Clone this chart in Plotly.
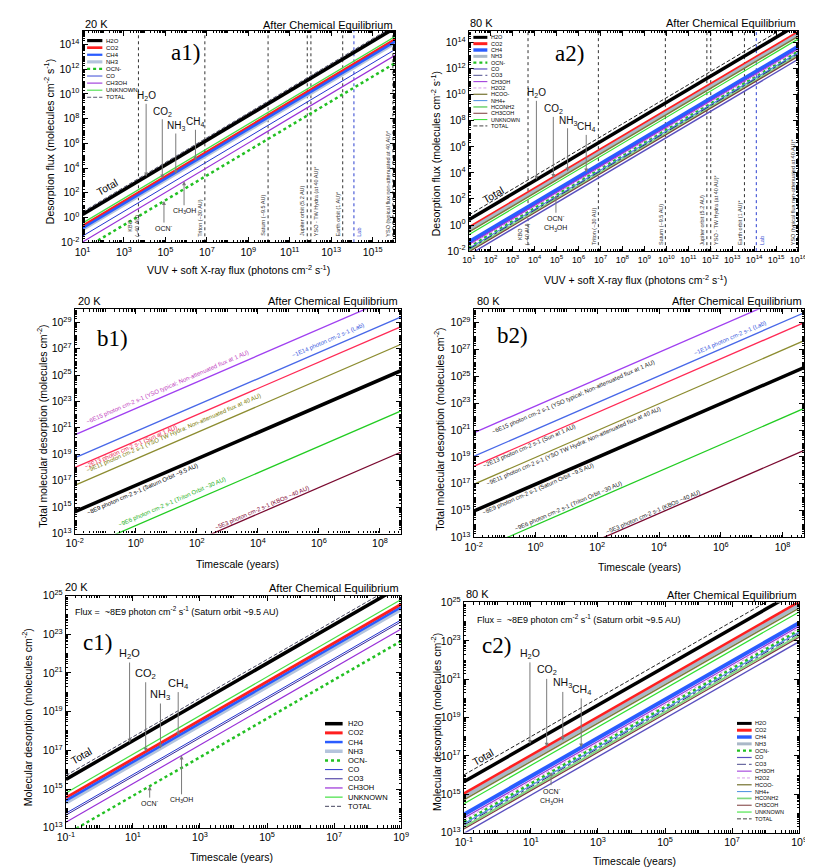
import math
import plotly.graph_objects as go

W, H = 813, 868
FONT = "Liberation Sans"
SERIF = "Liberation Serif"
SEC_PER_YEAR = 3.156e7

# ------------------------------------------------------------------ DATA
# log10 photodesorption yield (molecules per photon)
SPECIES_20K = ["H2O", "CO2", "CH4", "NH3", "OCN-", "CO", "CO3", "CH3OH", "UNKNOWN", "TOTAL"]
LOG_YIELD_20K = [-0.75, -1.70, -1.85, -1.97, -3.60, -2.50, -2.60, -2.97, -1.45, -0.55]
SPECIES_A1 = ["H2O", "CO2", "CH4", "NH3", "OCN-", "CO", "CH3OH", "UNKNOWN", "TOTAL"]

SPECIES_80K = ["H2O", "CO2", "CH4", "NH3", "OCN-", "CO", "CO3", "CH3OH", "H2O2", "HCOO-",
               "NH4+", "HCONH2", "CH3COH", "UNKNOWN", "TOTAL"]
LOG_YIELD_80K = [-0.60, -1.24, -2.31, -1.39, -2.69, -3.29, -2.86, -2.49, -2.59, -1.54,
                 -2.79, -2.96, -3.06, -1.74, -0.24]

FLUX_ENDS = [1e1, 1e17]          # photons cm-2 s-1 (a panels)
TIME_B = [1e-2, 1e9]             # years (b panels)
TIME_C = [1e-1, 1e9]             # years (c panels)
FLUX_C = 5.6e9                   # effective Saturn-orbit flux used in c panels

# b panels: fluxes of the different environments
B_FLUX = [3.4e15, 6.0e13, 1.1e13, 5.0e11, 5.0e9, 4.5e6, 3.4e3]
B_LABELS = ["~6E15 photon cm-2 s-1 (YSO typical; Non-attenuated flux at 1 AU)",
            "~1E14 photon cm-2 s-1 (Lab)",
            "~2E13 photon cm-2 s-1 (Sun at 1 AU)",
            "~9E11 photon cm-2 s-1 (YSO TW Hydra: Non-attenuated flux at 40 AU)",
            "~8E9 photon cm-2 s-1 (Saturn Orbit ~9.5 AU)",
            "~9E6 photon cm-2 s-1 (Triton Orbit ~30 AU)",
            "~5E3 photon cm-2 s-1 (KBOs ~40 AU)"]
B1_LABEL_X = [1.04, 6.31, -0.17, 1.24, 0.22, 1.18, 4.12]
B1_LABEL_DY = [0.6, 0.6, -0.3, 0.72, -0.47, 0.6, 0.33]
B2_LABEL_X = [1.22, 6.30, -0.21, 1.24, 0.07, 1.06, 3.81]
B2_LABEL_DY = [-0.56, 0.5, -0.26, -0.42, -0.45, 0.39, 0.3]

# vertical reference fluxes in a panels
SITE_LABELS = ["KBO<br>(~40 AU)", "Triton (~30 AU)", "Saturn (~9.5 AU)", "Jupiter orbit (5.2 AU)",
               "YSO - TW Hydra (at 40 AU)*", "Earth orbit (1 AU)*", "Lab",
               "YSO (typical flux non-attenuated at 40 AU)*"]
SITE_FLUX = [5e3, 8e6, 9e9, 7e11, 1.05e12, 3.6e13, 1.25e14, 9.5e15]
SITE_SIDE = [-1, -1, -1, -1, 1, -1, 1, -1]

# species annotations: (text, species, log x, log y of label)
NOTES_A1 = [("H<sub>2</sub>O", "H2O", 4.07, 9.8), ("CO<sub>2</sub>", "CO2", 4.85, 8.55),
            ("NH<sub>3</sub>", "NH3", 5.5, 7.4), ("CH<sub>4</sub>", "CH4", 6.45, 7.7),
            ("OCN<sup>-</sup>", "OCN-", 4.93, -0.85), ("CH<sub>3</sub>OH", "CH3OH", 5.9, 0.55)]
NOTES_A2 = [("H<sub>2</sub>O", "H2O", 4.08, 10.1), ("CO<sub>2</sub>", "CO2", 4.85, 8.87),
            ("NH<sub>3</sub>", "NH3", 5.5, 8.0), ("CH<sub>4</sub>", "CH4", 6.35, 7.49),
            ("OCN<sup>-</sup><br>CH<sub>3</sub>OH", "OCN-", 4.97, 0.1)]
NOTES_C1 = [("H<sub>2</sub>O", "H2O", 0.9, 21.98), ("CO<sub>2</sub>", "CO2", 1.38, 20.96),
            ("NH<sub>3</sub>", "NH3", 1.82, 19.86), ("CH<sub>4</sub>", "CH4", 2.35, 20.45),
            ("OCN<sup>-</sup>", "OCN-", 1.5, 14.27), ("CH<sub>3</sub>OH", "CH3OH", 2.45, 14.44)]
NOTES_C2 = [("H<sub>2</sub>O", "H2O", 0.97, 22.32), ("CO<sub>2</sub>", "CO2", 1.47, 21.46),
            ("NH<sub>3</sub>", "NH3", 1.95, 20.78), ("CH<sub>4</sub>", "CH4", 2.5, 20.44),
            ("OCN<sup>-</sup><br>CH<sub>3</sub>OH", "OCN-", 1.6, 14.9)]

# ------------------------------------------------------------------ STYLES
STYLE_20K = {
    "H2O": ("#000000", 3.5, "solid"), "CO2": ("#ff1f1f", 3.0, "solid"),
    "CH4": ("#2a5cff", 2.5, "solid"), "NH3": ("#b4c4dc", 3.5, "solid"),
    "OCN-": ("#22c022", 2.5, "dot"), "CO": ("#2434d0", 1.0, "solid"),
    "CO3": ("#3a2a9a", 1.0, "solid"), "CH3OH": ("#9a30d8", 1.2, "solid"),
    "UNKNOWN": ("#44e044", 1.2, "solid"), "TOTAL": ("#44445e", 1.0, "4px,2px"),
}
STYLE_80K = {
    "H2O": ("#000000", 3.5, "solid"), "CO2": ("#ff1f1f", 3.5, "solid"),
    "CH4": ("#2a5cff", 4.0, "solid"), "NH3": ("#aab8c8", 3.5, "solid"),
    "OCN-": ("#22c022", 2.5, "dot"), "CO": ("#5a50c0", 1.4, "solid"),
    "CO3": ("#2a2a7a", 1.0, "dashdot"), "CH3OH": ("#9a30d8", 1.2, "solid"),
    "H2O2": ("#d08ae8", 1.0, "3px,2px"), "HCOO-": ("#7c7a3a", 1.5, "solid"),
    "NH4+": ("#4a90e0", 1.2, "solid"), "HCONH2": ("#80d880", 2.0, "solid"),
    "CH3COH": ("#7c3c3c", 1.2, "solid"), "UNKNOWN": ("#30e030", 1.2, "solid"),
    "TOTAL": ("#222222", 1.0, "4px,2px"),
}
B_COLORS = ["#a040f0", "#4868e8", "#ff2a55", "#8c8c30", "#000000", "#22cc22", "#7a0a30"]
B_WIDTHS = [1.3, 1.3, 1.3, 1.3, 3.5, 1.3, 1.3]
B1_TEXT_COLORS = ["#c040c0", "#3355dd", "#e8204a", "#7a7a00", "#000000", "#20b020", "#800030"]
B2_TEXT_COLORS = ["#222222", "#3355dd", "#222222", "#222222", "#222222", "#222222", "#222222"]


def px(x):
    return x / W


def py(y):
    return 1 - y / H


PANELS = {
    "a1": dict(sfx="", box=(67, 15, 387, 230), xr=(1, 16.1), yr=(-2, 15.1),
               xt=list(range(1, 16, 2)), yt=list(range(-2, 15, 2)), xf=10.5),
    "a2": dict(sfx="2", box=(462, 15, 799, 239), xr=(1, 16.01), yr=(-2, 14.9),
               xt=list(range(1, 17)), yt=list(range(-2, 15, 2)), xf=8.8),
    "b1": dict(sfx="3", box=(59, 298, 393, 526), xr=(-2, 8.7), yr=(13, 30),
               xt=list(range(-2, 9, 2)), yt=list(range(13, 30, 2)), xf=10.5),
    "b2": dict(sfx="4", box=(467, 298, 805, 530), xr=(-2, 8.7), yr=(13, 30),
               xt=list(range(-2, 9, 2)), yt=list(range(13, 30, 2)), xf=10.5),
    "c1": dict(sfx="5", box=(50, 589, 393, 825), xr=(-1, 9.005), yr=(13, 25.005),
               xt=list(range(-1, 10, 2)), yt=list(range(13, 26, 2)), xf=10.5),
    "c2": dict(sfx="6", box=(457, 596, 800, 830), xr=(-1, 9.005), yr=(13, 25.005),
               xt=list(range(-1, 10, 2)), yt=list(range(13, 26, 2)), xf=10.5),
}


def log_ticks(lo, hi, majors):
    vals = [10.0 ** e for e in majors]
    text = ["10<sup>%d</sup>" % e for e in majors]
    minor = []
    for n in range(int(math.floor(lo)), int(math.ceil(hi)) + 1):
        for k in range(1, 10):
            lv = math.log10(k) + n
            if lo <= lv <= hi and not (k == 1 and n in majors):
                minor.append(k * 10.0 ** n)
    return vals, text, minor


def axis_dict(domain, rng, majors, anchor, fsize):
    vals, text, minor = log_ticks(rng[0], rng[1], majors)
    return dict(type="log", domain=domain, range=list(rng), anchor=anchor,
                tickmode="array", tickvals=vals, ticktext=text,
                ticks="inside", ticklen=5, tickwidth=1, tickcolor="black",
                minor=dict(tickmode="array", tickvals=minor, ticks="inside", ticklen=2.5,
                           tickwidth=0.8, tickcolor="black", showgrid=False),
                showline=True, linecolor="black", linewidth=1.2, mirror="allticks",
                showgrid=False, zeroline=False,
                tickfont=dict(family=FONT, size=fsize, color="black"))


fig = go.Figure()
layout = dict(width=W, height=H, margin=dict(l=0, r=0, t=0, b=0),
              paper_bgcolor="white", plot_bgcolor="white", showlegend=False,
              font=dict(family=FONT, color="black"))
annos, shapes = [], []

for key, p in PANELS.items():
    l, t, r, b = p["box"]
    s = p["sfx"]
    layout["xaxis" + s] = axis_dict([px(l), px(r)], p["xr"], p["xt"], "y" + s, p["xf"])
    layout["yaxis" + s] = axis_dict([py(b), py(t)], p["yr"], p["yt"], "x" + s, 10.5)


def ref(key):
    s = PANELS[key]["sfx"]
    return "x" + s, "y" + s


def add_line(key, xs, ys, color, width, dash):
    xr_, yr_ = ref(key)
    fig.add_trace(go.Scatter(x=xs, y=ys, mode="lines", xaxis=xr_, yaxis=yr_,
                             line=dict(color=color, width=width, dash=dash),
                             hoverinfo="skip"))


def species_lines(key, names, allnames, logy, style, mode):
    order = sorted(names, key=lambda n: -style[n][1])
    for n in order:
        ly = logy[allnames.index(n)]
        c, w, d = style[n]
        if mode == "a":
            xs = FLUX_ENDS
            ys = [10 ** ly * f for f in xs]
        else:
            xs = TIME_C
            ys = [10 ** ly * FLUX_C * tt * SEC_PER_YEAR for tt in xs]
        add_line(key, xs, ys, c, w, d)


def line_value(mode, ly, x):
    if mode == "a":
        return ly + x
    return ly + math.log10(FLUX_C * SEC_PER_YEAR) + x


def species_notes(key, notes, allnames, logy, mode, big):
    xr_, yr_ = ref(key)
    for text, sp, x, ylab in notes:
        tip = line_value(mode, logy[allnames.index(sp)], x)
        small = sp in ("OCN-", "CH3OH")
        annos.append(dict(xref=xr_, yref=yr_, axref=xr_, ayref=yr_, x=x, y=tip, ax=x, ay=ylab,
                          text=text, showarrow=True, arrowhead=2, arrowsize=0.8, arrowwidth=1,
                          arrowcolor="#7a7a7a", standoff=0,
                          font=dict(family=FONT, size=7 if small else big, color="#111")))


def legend(names, style, x0, y0, dy, slen, tx, fsize, wscale):
    for i, n in enumerate(names):
        y = y0 + i * dy
        c, w, d = style[n]
        shapes.append(dict(type="line", xref="paper", yref="paper", x0=px(x0), x1=px(x0 + slen),
                           y0=py(y), y1=py(y), line=dict(color=c, width=w * wscale, dash=d)))
        annos.append(dict(xref="paper", yref="paper", x=px(tx), y=py(y), text=n, showarrow=False,
                          xanchor="left", yanchor="middle", font=dict(family=FONT, size=fsize)))


def text(x, y, s, size, xanchor="center", family=FONT, color="black", angle=0):
    annos.append(dict(xref="paper", yref="paper", x=px(x), y=py(y), text=s, showarrow=False,
                      xanchor=xanchor, yanchor="middle", textangle=angle,
                      font=dict(family=family, size=size, color=color)))


# ------------------------------------------------------------------ a panels
for key, names, allnames, logy, style in (
        ("a1", SPECIES_A1, SPECIES_20K, LOG_YIELD_20K, STYLE_20K),
        ("a2", SPECIES_80K, SPECIES_80K, LOG_YIELD_80K, STYLE_80K)):
    p = PANELS[key]
    xr_, yr_ = ref(key)
    for lab, f, side in zip(SITE_LABELS, SITE_FLUX, SITE_SIDE):
        col = "#2b3fd0" if lab == "Lab" else "#333333"
        add_line(key, [f, f], [10 ** p["yr"][0], 10 ** p["yr"][1]], col, 1.0, "3px,3px")
        annos.append(dict(xref=xr_, yref=yr_, x=math.log10(f), y=p["yr"][0], text=lab,
                          showarrow=False, textangle=-90, xanchor="center", yanchor="bottom",
                          xshift=5 * side, yshift=4,
                          font=dict(family=FONT, size=5.5, color=col)))
    species_lines(key, names, allnames, logy, style, "a")

species_notes("a1", NOTES_A1, SPECIES_20K, LOG_YIELD_20K, "a", 10)
species_notes("a2", NOTES_A2, SPECIES_80K, LOG_YIELD_80K, "a", 10)

# ------------------------------------------------------------------ b panels
for key, logy, allnames, lx, ldy, tcols in (
        ("b1", LOG_YIELD_20K, SPECIES_20K, B1_LABEL_X, B1_LABEL_DY, B1_TEXT_COLORS),
        ("b2", LOG_YIELD_80K, SPECIES_80K, B2_LABEL_X, B2_LABEL_DY, B2_TEXT_COLORS)):
    ytot = logy[allnames.index("TOTAL")]
    xr_, yr_ = ref(key)
    for i, f in enumerate(B_FLUX):
        ys = [10 ** ytot * f * tt * SEC_PER_YEAR for tt in TIME_B]
        add_line(key, TIME_B, ys, B_COLORS[i], B_WIDTHS[i], "solid")
        yline = ytot + math.log10(f * SEC_PER_YEAR) + lx[i]
        annos.append(dict(xref=xr_, yref=yr_, x=lx[i], y=yline + ldy[i], text=B_LABELS[i],
                          showarrow=False, textangle=-23.5,
                          font=dict(family=FONT, size=6, color=tcols[i])))

# ------------------------------------------------------------------ c panels
species_lines("c1", SPECIES_20K, SPECIES_20K, LOG_YIELD_20K, STYLE_20K, "c")
species_lines("c2", SPECIES_80K, SPECIES_80K, LOG_YIELD_80K, STYLE_80K, "c")
species_notes("c1", NOTES_C1, SPECIES_20K, LOG_YIELD_20K, "c", 11)
species_notes("c2", NOTES_C2, SPECIES_80K, LOG_YIELD_80K, "c", 10.5)

# "Total" labels
for key, x, y in (("a1", 2.18, 2.48), ("a2", 2.09, 2.32), ("c1", -0.56, 16.73), ("c2", -0.43, 16.93)):
    xr_, yr_ = ref(key)
    annos.append(dict(xref=xr_, yref=yr_, x=x, y=y, text="Total", showarrow=False, textangle=-30,
                      font=dict(family=FONT, size=10.5, color="black")))

# legends
legend(SPECIES_A1, STYLE_20K, 71.7, 25, 7.2, 15.6, 89, 6, 0.9)
legend(SPECIES_80K, STYLE_80K, 466.7, 21.7, 6.43, 14.3, 482.7, 5.5, 0.85)
legend(SPECIES_20K, STYLE_20K, 315, 719.3, 9.33, 18, 336.7, 7.5, 1.0)
legend(SPECIES_80K, STYLE_80K, 736.3, 719, 6.93, 15, 753, 5.5, 0.85)

# headers
for (tx, ty, temp), (rx, ry) in (((68, 8, "20 K"), (387, 9)), ((461, 7, "80 K"), (799, 7)),
                                 ((60, 290, "20 K"), (392, 290)), ((468, 290, "80 K"), (805, 290)),
                                 ((47, 580, "20 K"), (393, 581)), ((457, 587, "80 K"), (800, 588))):
    text(tx, ty, temp, 11, xanchor="left")
    text(rx, ry, "After Chemical Equilibrium", 11, xanchor="right")

# panel letters
for s, x, y in (("a1)", 172, 37), ("a2)", 565, 38), ("b1)", 98, 328), ("b2)", 507, 325),
                ("c1)", 82, 637), ("c2)", 490, 640)):
    text(x, y, s, 23, family=SERIF)

# axis titles
XT_A = "VUV + soft X-ray flux (photons cm<sup>-2</sup> s<sup>-1</sup>)"
for x, y, s in ((227, 258, XT_A), (632, 268, XT_A), (226, 557, "Timescale (years)"),
                (637, 560, "Timescale (years)"), (219, 855, "Timescale (years)"),
                (631, 859, "Timescale (years)")):
    text(x, y, s, 10.5)
YT_A = "Desorption flux (molecules cm<sup>-2</sup> s<sup>-1</sup>)"
YT_B = "Total molecular desorption (molecules cm<sup>-2</sup>)"
YT_C = "Molecular desorption (molecules cm<sup>-2</sup>)"
for x, y, s in ((33, 128, YT_A), (428, 140, YT_A), (25, 417, YT_B), (431, 420, YT_B),
                (10, 713, YT_C), (428, 718, YT_C)):
    text(x, y, s, 10.5, angle=-90)

# flux notes in c panels
FLUX_NOTE = "Flux =  ~8E9 photon cm<sup>-2</sup> s<sup>-1</sup> (Saturn orbit ~9.5 AU)"
text(57, 605, FLUX_NOTE, 9, xanchor="left")
text(468, 613, FLUX_NOTE, 9, xanchor="left")

layout["annotations"] = annos
layout["shapes"] = shapes
fig.update_layout(**layout)
fig.write_html("out.html")
